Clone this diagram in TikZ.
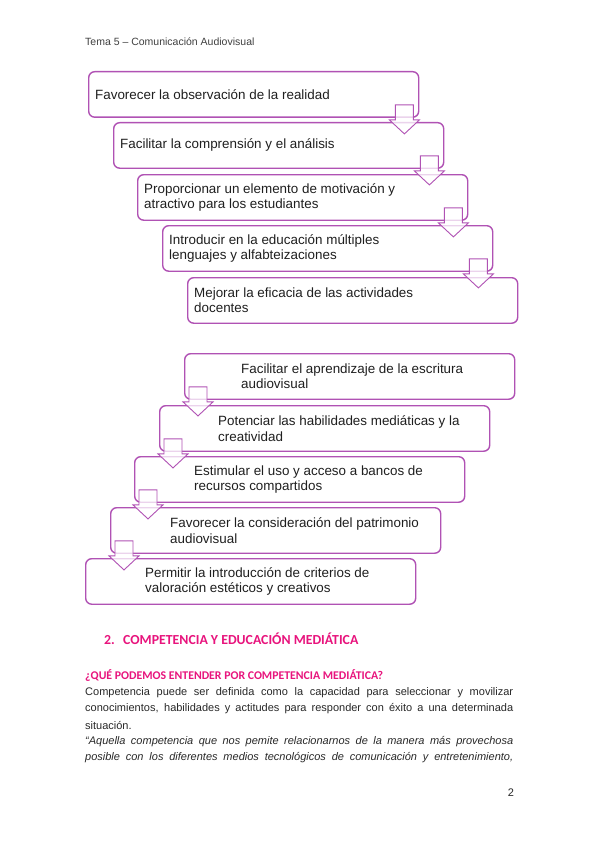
\documentclass[tikz,border=0pt]{standalone}
\usepackage{fontspec}
\setmainfont{Liberation Sans}
\newfontfamily\headfont{Carlito}
\usetikzlibrary{calc}
\definecolor{boxpurple}{RGB}{176,82,180}
\definecolor{headpink}{RGB}{232,20,125}
\definecolor{bodytext}{RGB}{40,40,40}
\begin{document}
\begin{tikzpicture}[x=1pt,y=1pt,
  flowbox/.style={draw=boxpurple, line width=1.4pt, rounded corners=6pt,
    minimum width=330pt, minimum height=45.5pt, inner sep=0pt, anchor=north west},
  boxtext/.style={anchor=west, align=left, inner sep=0pt,
    font=\fontsize{13.4}{15.5}\selectfont, text=black!88},
  flowarrow/.style={draw=boxpurple, line width=0.9pt, fill=white,
    fill opacity=0.75, line join=miter},
  plain/.style={anchor=west, inner sep=0pt, text=bodytext},
  bodyline/.style={plain, font=\fontsize{11}{13}\selectfont},
  headline/.style={anchor=base west, inner sep=0pt, text=headpink}
]
\useasboundingbox (0,0) rectangle (599,-848);
\fill[white] (0,0) rectangle (599,-848);

% header
\node[plain, font=\fontsize{10.5}{12}\selectfont, text=black!75] (hdr) at (85,-42)
  {Tema 5 – Comunicación Audiovisual};

% top group boxes
\node[flowbox] (b1) at (88,-71) {};
\node[flowbox] (b2) at (113,-122) {};
\node[flowbox] (b3) at (137,-174) {};
\node[flowbox] (b4) at (162,-225) {};
\node[flowbox] (b5) at (187,-277) {};

\node[boxtext] (t1) at ($(b1.west)+(7,0)$) {Favorecer la observación de la realidad};
\node[boxtext] (t2) at ($(b2.west)+(7,0)$) {Facilitar la comprensión y el análisis};
\node[boxtext] (t3) at ($(b3.west)+(7,0)$) {Proporcionar un elemento de motivación y\\atractivo para los estudiantes};
\node[boxtext] (t4) at ($(b4.west)+(7,0)$) {Introducir en la educación múltiples\\lenguajes y alfabteizaciones};
\node[boxtext] (t5) at ($(b5.west)+(7,0)$) {Mejorar la eficacia de las actividades\\docentes};

\foreach \b in {b1,b2,b3,b4}{
  \draw[flowarrow] ($(\b.south east)+(-24,13)$) -- ++(18,0) -- ++(0,-15) -- ++(6,0)
    -- ++(-15,-14) -- ++(-15,14) -- ++(6,0) -- cycle;
}

% bottom group boxes
\node[flowbox] (b6) at (184,-353) {};
\node[flowbox] (b7) at (159,-405) {};
\node[flowbox] (b8) at (134,-456) {};
\node[flowbox] (b9) at (110,-507) {};
\node[flowbox] (b10) at (85,-558) {};

\node[boxtext] (t6) at ($(b6.west)+(57,0)$) {Facilitar el aprendizaje de la escritura\\audiovisual};
\node[boxtext] (t7) at ($(b7.west)+(59,0)$) {Potenciar las habilidades mediáticas y la\\creatividad};
\node[boxtext] (t8) at ($(b8.west)+(60,0)$) {Estimular el uso y acceso a bancos de\\recursos compartidos};
\node[boxtext] (t9) at ($(b9.west)+(60,0)$) {Favorecer la consideración del patrimonio\\audiovisual};
\node[boxtext] (t10) at ($(b10.west)+(60,0)$) {Permitir la introducción de criterios de\\valoración estéticos y creativos};

\foreach \b in {b6,b7,b8,b9}{
  \draw[flowarrow] ($(\b.south west)+(5,13)$) -- ++(18,0) -- ++(0,-15) -- ++(6,0)
    -- ++(-15,-14) -- ++(-15,14) -- ++(6,0) -- cycle;
}

% headings
\node[headline, font=\headfont\bfseries\fontsize{13.8}{16}\selectfont] (h2num) at (104,-644.5) {2.};
\node[headline, font=\headfont\bfseries\fontsize{13.8}{16}\selectfont] (h2) at (123,-644.5) {COMPETENCIA Y EDUCACIÓN MEDIÁTICA};
\node[headline, font=\headfont\bfseries\fontsize{11.8}{14}\selectfont] (h3) at (85,-679) {¿QUÉ PODEMOS ENTENDER POR COMPETENCIA MEDIÁTICA?};

% body
\node[bodyline] (l1) at (85,-692.7) {\makebox[428pt][s]{Competencia puede ser definida como la capacidad para seleccionar y movilizar}};
\node[bodyline] (l2) at (85,-709) {\makebox[428pt][s]{conocimientos, habilidades y actitudes para responder con éxito a una determinada}};
\node[bodyline] (l3) at (85,-725.8) {situación.};
\node[bodyline, font=\fontsize{11}{13}\selectfont\itshape] (l4) at (85,-741.8) {\makebox[428pt][s]{“Aquella competencia que nos pemite relacionarnos de la manera más provechosa}};
\node[bodyline, font=\fontsize{11}{13}\selectfont\itshape] (l5) at (85,-757.5) {\makebox[428pt][s]{posible con los diferentes medios tecnológicos de comunicación y entretenimiento,}};

\node[inner sep=0pt, text=bodytext, font=\fontsize{11}{13}\selectfont] (pg) at (511,-793) {2};
\end{tikzpicture}
\end{document}
